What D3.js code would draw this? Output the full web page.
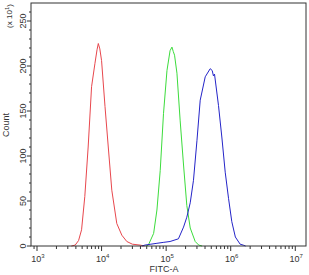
<!DOCTYPE html>
<html>
  <head>
    <script src="https://d3js.org/d3.v7.min.js"></script>
    <style>
      body { margin: 0; background: white; }
      text { font-family: "Liberation Sans", Arial, sans-serif; fill: #333; }
    </style>
  </head>
  <body>
    <script>
      // FITC-A intensity / count (x10)
      const redFitc = [3.4e3, 3.9e3, 4.4e3, 4.9e3, 5.5e3, 6.2e3, 7.0e3, 7.9e3, 8.5e3, 8.9e3, 9.4e3, 1.0e4, 1.13e4, 1.27e4, 1.44e4, 1.72e4, 2.06e4, 2.46e4, 3.0e4, 3.95e4, 4.6e4];
      const redCount = [0, 1, 6, 18, 55, 110, 177, 203, 218, 225, 219, 206, 155, 110, 62, 25, 12, 5, 2, 1, 0];

      const greenFitc = [4.9e4, 5.3e4, 6.4e4, 7.2e4, 8.1e4, 9.1e4, 1.03e5, 1.15e5, 1.23e5, 1.29e5, 1.35e5, 1.47e5, 1.65e5, 1.86e5, 2.09e5, 2.36e5, 2.82e5, 3.2e5, 3.6e5];
      const greenCount = [0, 1, 14, 40, 84, 147, 195, 217, 221, 216, 212, 192, 139, 90, 45, 20, 5, 1, 0];

      const blueFitc = [4.2e4, 4.7e4, 5.8e4, 7.2e4, 9.0e4, 1.15e5, 1.55e5, 1.86e5, 2.09e5, 2.36e5, 2.65e5, 3.0e5, 3.37e5, 4.03e5, 4.81e5, 5.17e5, 5.4e5, 5.61e5, 6.47e5, 7.31e5, 8.22e5, 9.25e5, 1.04e6, 1.18e6, 1.4e6, 1.56e6, 1.7e6];
      const blueCount = [0, 1, 2, 3, 4, 5, 8, 21, 32, 48, 73, 117, 162, 188, 197, 195, 189, 191, 156, 120, 82, 53, 27, 10, 2, 1, 0];

      const yTicks = [0, 50, 100, 150, 200, 250];
      const xPowers = [3, 4, 5, 6, 7];

      const w = 309, h = 275;
      const mLeft = 31, mRight = 306, mTop = 3, mBottom = 246;

      const svg = d3.select('body').append('svg')
        .attr('width', w)
        .attr('height', h);

      const x = d3.scaleLog()
        .domain([Math.pow(10, 2.907), Math.pow(10, 7.166)])
        .range([mLeft, mRight]);

      const y = d3.scaleLinear()
        .domain([0, 270])
        .range([mBottom, mTop]);

      // x ticks
      const minor = [];
      for (let p = 2; p <= 7; p++) {
        for (let m = 1; m < 10; m++) {
          const v = m * Math.pow(10, p);
          if (v >= x.domain()[0] && v <= x.domain()[1]) minor.push({ v: v, major: m === 1 });
        }
      }
      svg.selectAll('.xt')
        .data(minor)
        .enter()
        .append('line')
        .attr('x1', d => x(d.v))
        .attr('x2', d => x(d.v))
        .attr('y1', mBottom)
        .attr('y2', d => mBottom + (d.major ? 5 : 3))
        .attr('stroke', '#333');

      const xl = svg.selectAll('.xl')
        .data(xPowers)
        .enter()
        .append('text')
        .attr('x', d => x(Math.pow(10, d)) + 1)
        .attr('y', 262)
        .attr('text-anchor', 'middle')
        .style('font-size', '9px');
      xl.append('tspan').text('10');
      xl.append('tspan')
        .attr('dy', -4)
        .style('font-size', '6px')
        .text(d => d);

      // y ticks
      const yMinor = d3.range(0, 261, 10);
      svg.selectAll('.yt')
        .data(yMinor)
        .enter()
        .append('line')
        .attr('x1', d => mLeft - (d % 50 === 0 ? 4 : 2))
        .attr('x2', mLeft)
        .attr('y1', d => y(d))
        .attr('y2', d => y(d))
        .attr('stroke', '#333');

      svg.selectAll('.yl')
        .data(yTicks)
        .enter()
        .append('text')
        .attr('transform', d => `translate(25.5,${y(d)}) rotate(-90)`)
        .attr('text-anchor', 'middle')
        .style('font-size', '9px')
        .text(d => d);

      svg.append('text')
        .attr('transform', 'translate(9,125) rotate(-90)')
        .attr('text-anchor', 'middle')
        .style('font-size', '9px')
        .text('Count');

      const mult = svg.append('text')
        .attr('transform', 'translate(12,16) rotate(-90)')
        .attr('text-anchor', 'middle')
        .style('font-size', '8px');
      mult.append('tspan').text('(x 10');
      mult.append('tspan').attr('dy', -3).style('font-size', '6px').text('1');
      mult.append('tspan').attr('dy', 3).text(')');

      svg.append('text')
        .attr('x', 164)
        .attr('y', 272)
        .attr('text-anchor', 'middle')
        .style('font-size', '9px')
        .text('FITC-A');

      // curves
      const line = d3.line()
        .x(d => x(d[0]))
        .y(d => y(d[1]));

      const series = [
        { fx: redFitc, c: redCount, color: '#e8474d' },
        { fx: greenFitc, c: greenCount, color: '#3cdc3c' },
        { fx: blueFitc, c: blueCount, color: '#2424c8' }
      ];
      series.forEach(s => {
        svg.append('path')
          .datum(d3.zip(s.fx, s.c))
          .attr('d', line)
          .attr('fill', 'none')
          .attr('stroke', s.color)
          .attr('stroke-width', 1);
      });

      // frame
      svg.append('rect')
        .attr('x', mLeft)
        .attr('y', mTop)
        .attr('width', mRight - mLeft)
        .attr('height', mBottom - mTop)
        .attr('fill', 'none')
        .attr('stroke', '#333')
        .attr('stroke-width', 1);
    </script>
  </body>
</html>
